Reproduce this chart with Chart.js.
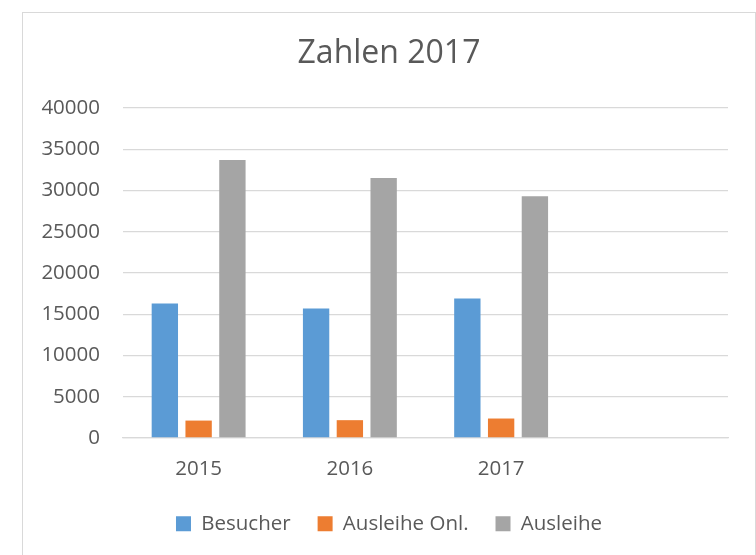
<!DOCTYPE html>
<html>
<head>
<meta charset="utf-8">
<script src="https://cdn.jsdelivr.net/npm/chart.js@4"></script>
<style>
    html, body { margin: 0; padding: 0; background: #fff; }
    #wrap { position: relative; width: 756px; height: 555px; overflow: hidden; }
    #frame { position: absolute; left: 22px; top: 12px; width: 732px; height: 600px; border: 1px solid #d9d9d9; }
    #chart { position: absolute; left: 0; top: 0; }
</style>
</head>
<body>
<div id="wrap">
    <div id="frame"></div>
    <canvas id="chart" width="756" height="555"></canvas>
</div>
<script>
// Werte
const years = ['2015', '2016', '2017', ''];
const besucher = [16300, 15700, 16900, null];
const ausleiheOnl = [2100, 2150, 2350, null];
const ausleihe = [33700, 31500, 29300, null];
const seriesNames = ['Besucher', 'Ausleihe Onl.', 'Ausleihe'];

const textColor = '#595959';
const gridColor = '#d9d9d9';
const fontFamily = '"Open Sans", sans-serif';

const ctx = document.getElementById('chart').getContext('2d');
new Chart(ctx, {
    type: 'bar',
    data: {
        labels: years,
        datasets: [
            { label: seriesNames[0], data: besucher, backgroundColor: '#5b9bd5' },
            { label: seriesNames[1], data: ausleiheOnl, backgroundColor: '#ed7d31' },
            { label: seriesNames[2], data: ausleihe, backgroundColor: '#a5a5a5' }
        ]
    },
    options: {
        responsive: false,
        animation: false,
        categoryPercentage: 0.67,
        barPercentage: 0.78,
        layout: { padding: { left: 22, right: 0, top: 0, bottom: 11 } },
        scales: {
            x: {
                afterFit: function(scale) { scale.height = scale.height - 6; },
                grid: { display: false },
                border: { display: true, color: gridColor, width: 1.3 },
                ticks: { color: textColor, font: { family: fontFamily, size: 20.5 }, padding: 11 }
            },
            y: {
                min: 0,
                max: 40000,
                afterFit: function(scale) { scale.width = 101; },
                grid: { color: gridColor, lineWidth: 1.3, drawTicks: false },
                border: { display: false },
                ticks: {
                    stepSize: 5000,
                    color: textColor,
                    font: { family: fontFamily, size: 20.5 },
                    padding: 23,
                    callback: function(value) { return String(value); }
                }
            },
            y2: {
                position: 'right',
                afterFit: function(scale) { scale.width = 28; },
                grid: { display: false },
                border: { display: false },
                ticks: { display: false }
            }
        },
        plugins: {
            title: {
                display: true,
                text: 'Zahlen 2017',
                color: textColor,
                font: { family: fontFamily, size: 32, weight: 'normal' },
                padding: { top: 35, bottom: 34.6 }
            },
            legend: {
                position: 'bottom',
                labels: {
                    color: textColor,
                    font: { family: fontFamily, size: 20.5 },
                    boxWidth: 15,
                    boxHeight: 15,
                    padding: 27
                }
            },
            tooltip: { enabled: false }
        }
    }
});
</script>
</body>
</html>
